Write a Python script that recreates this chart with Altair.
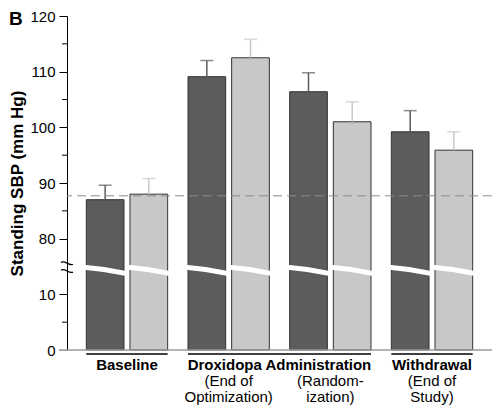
import altair as alt
import pandas as pd

# ---- data ----
groups = ["Baseline", "End of Optimization", "Randomization", "End of Study"]
series = ["A", "B"]
sbp_a = [87.0, 109.1, 106.4, 99.2]      # dark bars
sbp_b = [88.0, 112.5, 101.0, 95.9]      # light bars
err_a = [2.6, 2.9, 3.4, 3.8]
err_b = [2.8, 3.3, 3.6, 3.3]
reference_line = 87.7
major_ticks = [0, 10, 20, 30, 40, 50, 60]     # plotted (broken-axis) units
minor_ticks = [5, 25, 35, 45, 55]
axis_offset = 60          # values >= 80 are shifted down by 60 (axis break)
break_pos = 14.3
axis_break_pos = 14.8

FONT = "Liberation Sans"
W, H = 425, 334

rows = []
for g, a, b, ea, eb in zip(groups, sbp_a, sbp_b, err_a, err_b):
    rows.append({"group": g, "series": "A", "v": a, "err": ea})
    rows.append({"group": g, "series": "B", "v": b, "err": eb})
df = pd.DataFrame(rows)
df["t"] = df["v"] - axis_offset
df["t2"] = df["v"] + df["err"] - axis_offset
df["brk"] = break_pos

xscale = alt.Scale(domain=groups, paddingInner=0.2, paddingOuter=0.19)
oscale = alt.Scale(domain=series, paddingInner=0.137, paddingOuter=0)
yscale = alt.Scale(domain=[0, 60], nice=False, zero=True)
colscale = alt.Scale(domain=series, range=["#5c5c5c", "#c8c8c8"])
errscale = alt.Scale(domain=series, range=["#444444", "#7a7a7a"])

X = alt.X("group:N", scale=xscale, axis=None)
XO = alt.XOffset("series:N", scale=oscale)

base = alt.Chart(df)

bars = base.mark_bar(stroke="#333333", strokeWidth=1).encode(
    x=X, xOffset=XO,
    y=alt.Y("t:Q", scale=yscale,
            axis=alt.Axis(values=major_ticks, tickSize=8, grid=False,
                          labelExpr=f"datum.value >= 20 ? datum.value + {axis_offset} : datum.value",
                          labelFont=FONT, labelFontSize=15, labelColor="black", labelPadding=4,
                          domainColor="black", domainWidth=1,
                          tickColor={"condition": {"test": "datum.value == 0", "value": "#999999"}, "value": "black"},
                          tickWidth=1,
                          title="Standing SBP (mm Hg)", titleFont=FONT, titleFontSize=17,
                          titleFontWeight="bold", titleColor="black", titlePadding=3)),
    color=alt.Color("series:N", scale=colscale, legend=None),
)

band_shape = "M -1.05 -0.28 Q 0 -0.2 1.05 0.03 L 1.05 0.28 Q 0 0.06 -1.05 -0.03 Z"
breaks = base.mark_point(shape=band_shape, filled=True, color="white", opacity=1,
                         size=1600, strokeWidth=0).encode(
    x=X, xOffset=XO, y=alt.Y("brk:Q", scale=yscale)
)

err_rule = base.mark_rule(strokeWidth=1.5).encode(
    x=X, xOffset=XO,
    y=alt.Y("t:Q", scale=yscale), y2="t2:Q",
    color=alt.Color("series:N", scale=errscale, legend=None),
)
err_cap = base.mark_tick(size=13, thickness=1.5, orient="horizontal").encode(
    x=X, xOffset=XO,
    y=alt.Y("t2:Q", scale=yscale),
    color=alt.Color("series:N", scale=errscale, legend=None),
)

dashed = alt.Chart(pd.DataFrame({"y": [reference_line - axis_offset]})).mark_rule(
    color="#8a8a8a", strokeDash=[9, 5], strokeWidth=1
).encode(y=alt.Y("y:Q", scale=yscale))

zero_line = alt.Chart(pd.DataFrame({"y": [0]})).mark_rule(
    color="#9a9a9a", strokeWidth=1.5
).encode(y=alt.Y("y:Q", scale=yscale), x=alt.value(-8), x2=alt.value(W))

minor = alt.Chart(pd.DataFrame({"y": minor_ticks})).mark_rule(
    color="black", strokeWidth=1
).encode(y=alt.Y("y:Q", scale=yscale), x=alt.value(-5), x2=alt.value(0))

axis_break_shape = "M -1 -0.85 C -0.4 -1.4 0.3 -0.2 1 -0.55 M -1 0.45 C -0.4 -0.1 0.3 1.1 1 0.75"
axis_break = alt.Chart(pd.DataFrame({"y": [axis_break_pos]})).mark_point(
    shape=axis_break_shape, filled=False, color="black", strokeWidth=1.2, size=144, opacity=1
).encode(y=alt.Y("y:Q", scale=yscale), x=alt.value(0))

# underlines below the groups
ul = pd.DataFrame({"start": ["Baseline", "End of Optimization", "End of Study"],
                   "end": ["Baseline", "Randomization", "End of Study"]})
underline = alt.Chart(ul).mark_rule(color="black", strokeWidth=1.6).encode(
    x=alt.X("start:N", scale=xscale, axis=None, bandPosition=0),
    x2=alt.X2("end", bandPosition=1),
    y=alt.value(H + 4),
)

# group labels
lab = pd.DataFrame({
    "group": ["Baseline", "End of Optimization", "End of Optimization",
              "Randomization", "Randomization", "End of Study", "End of Study", "End of Study"],
    "text": ["Baseline", "(End of", "Optimization)", "(Random-", "ization)",
             "Withdrawal", "(End of", "Study)"],
    "line": [0, 1, 2, 1, 2, 0, 1, 2],
    "bold": [1, 0, 0, 0, 0, 1, 0, 0],
})
lab["ypix"] = H + 20 + lab["line"] * 16
labels_norm = alt.Chart(lab[lab.bold == 0]).mark_text(
    font=FONT, fontSize=15, color="black", baseline="alphabetic", align="center"
).encode(x=alt.X("group:N", scale=xscale, axis=None), y=alt.Y("ypix:Q", scale=None), text="text:N")
labels_bold = alt.Chart(lab[lab.bold == 1]).mark_text(
    font=FONT, fontSize=15, fontWeight="bold", color="black", baseline="alphabetic", align="center"
).encode(x=alt.X("group:N", scale=xscale, axis=None), y=alt.Y("ypix:Q", scale=None), text="text:N")
drox = alt.Chart(pd.DataFrame({"group": ["End of Optimization"], "text": ["Droxidopa Administration"],
                               "ypix": [H + 20]})).mark_text(
    font=FONT, fontSize=15, fontWeight="bold", color="black", baseline="alphabetic",
    align="center", dx=50.8
).encode(x=alt.X("group:N", scale=xscale, axis=None), y=alt.Y("ypix:Q", scale=None), text="text:N")

panel_letter = alt.Chart(pd.DataFrame({"t": ["B"]})).mark_text(
    font=FONT, fontSize=19, fontWeight="bold", color="black", align="left", baseline="alphabetic"
).encode(x=alt.value(-58), y=alt.value(9), text="t:N")

chart = alt.layer(
    bars, breaks, err_rule, err_cap, zero_line, minor, axis_break, dashed,
    underline, labels_norm, labels_bold, drox, panel_letter
).resolve_scale(y="shared").properties(
    width=W, height=H,
    autosize=alt.AutoSizeParams(type="none"),
    padding={"left": 59, "top": 8, "right": 0, "bottom": 58},
).configure_view(stroke=None).configure_axis(labelFont=FONT, titleFont=FONT)

chart.save("out.html", embed_options={"renderer": "svg", "actions": False})
